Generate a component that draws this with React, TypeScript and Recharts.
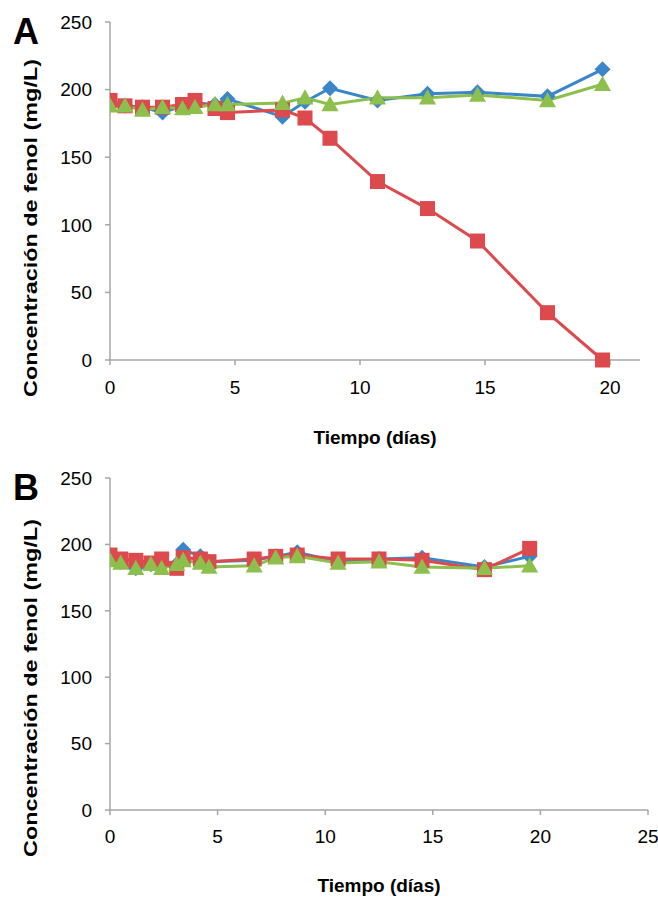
import React from 'react';
import { LineChart, Line, XAxis, YAxis, Label } from 'recharts';

const daysA = [0, 0.6, 1.3, 2.1, 2.9, 3.4, 4.2, 4.7, 6.9, 7.8, 8.8, 10.7, 12.7, 14.7, 17.5, 19.7];
const blueA = [190, 188, 187, 183, 188, 190, 189, 193, 180, 191, 201, 192, 197, 198, 195, 215];
const redA = [192, 188, 187, 187, 189, 192, 186, 183, 185, 179, 164, 132, 112, 88, 35, 0];
const greenA = [188, 188, 185, 187, 186, 187, 189, 189, 190, 194, 189, 194, 194, 196, 192, 204];

const daysB = [0, 0.5, 1.2, 1.9, 2.4, 3.1, 3.4, 4.2, 4.6, 6.7, 7.7, 8.7, 10.6, 12.5, 14.5, 17.4, 19.5];
const blueB = [190, 187, 182, 185, 186, 185, 196, 191, 187, 188, 191, 194, 187, 189, 190, 183, 191];
const redB = [192, 189, 188, 186, 189, 182, 190, 189, 187, 189, 191, 192, 189, 189, 188, 181, 197];
const greenB = [188, 186, 182, 185, 182, 185, 188, 186, 183, 184, 190, 191, 186, 187, 183, 182, 184];

const yTicks = [0, 50, 100, 150, 200, 250];
const xTicksA = [0, 5, 10, 15, 20];
const xTicksB = [0, 5, 10, 15, 20, 25];

const yTitle = 'Concentración de fenol (mg/L)';
const xTitle = 'Tiempo (días)';

const BLUE = '#3a86c8';
const RED = '#dc4a4d';
const GREEN = '#8cbf4c';
const AXIS = '#a6a6a6';
const FONT = '"Liberation Sans", Arial, Helvetica, sans-serif';

const build = (days: number[], b: number[], r: number[], g: number[]) =>
  days.map((d, i) => ({ day: d, blue: b[i], red: r[i], green: g[i] }));

const Diamond = (p: any) => {
  const { cx, cy } = p;
  if (cx == null || cy == null) return null;
  const s = 8;
  return <polygon points={`${cx},${cy - s} ${cx + s},${cy} ${cx},${cy + s} ${cx - s},${cy}`} fill={BLUE} />;
};
const Square = (p: any) => {
  const { cx, cy } = p;
  if (cx == null || cy == null) return null;
  const s = 7.5;
  return <rect x={cx - s} y={cy - s} width={2 * s} height={2 * s} fill={RED} />;
};
const Triangle = (p: any) => {
  const { cx, cy } = p;
  if (cx == null || cy == null) return null;
  const s = 8.5;
  return <polygon points={`${cx},${cy - s} ${cx + s},${cy + s * 0.8} ${cx - s},${cy + s * 0.8}`} fill={GREEN} />;
};

const tickStyle = { fontSize: 19, fill: '#000', fontFamily: FONT };

type PanelProps = {
  data: any[];
  height: number;
  top: number;
  right: number;
  xDomain: [number, number];
  xTicks: number[];
  xAxisH: number;
  xTickMargin: number;
  yLabelDy: number;
  xLabelDy: number;
};

const Panel = ({ data, height, top, right, xDomain, xTicks, xAxisH, xTickMargin, yLabelDy, xLabelDy }: PanelProps) => (
  <LineChart width={658} height={height} data={data} margin={{ top, right, left: 0, bottom: 0 }}>
    <XAxis
      type="number"
      dataKey="day"
      domain={xDomain}
      ticks={xTicks}
      allowDataOverflow
      height={xAxisH}
      stroke={AXIS}
      strokeWidth={1.5}
      tickSize={5}
      tickMargin={xTickMargin}
      tick={tickStyle}
      tickLine={{ stroke: AXIS }}
    >
      <Label
        content={(props: any) => {
          const vb = props.viewBox || {};
          return (
            <text
              x={vb.x + vb.width / 2}
              y={vb.y + xLabelDy}
              textAnchor="middle"
              fontFamily={FONT}
              fontWeight="bold"
              fontSize={19}
              fill="#000"
            >
              {xTitle}
            </text>
          );
        }}
      />
    </XAxis>
    <YAxis
      type="number"
      domain={[0, 250]}
      ticks={yTicks}
      width={110}
      stroke={AXIS}
      strokeWidth={1.5}
      tickSize={5}
      tickMargin={13}
      tick={tickStyle}
      tickLine={{ stroke: AXIS }}
    >
      <Label
        content={(props: any) => {
          const vb = props.viewBox || {};
          const x = vb.x + 30;
          const y = vb.y + vb.height / 2 + yLabelDy;
          return (
            <text
              x={x}
              y={y}
              transform={`rotate(-90, ${x}, ${y})`}
              textAnchor="middle"
              dominantBaseline="central"
              fontFamily={FONT}
              fontWeight="bold"
              fontSize={19}
              textLength={338}
              lengthAdjust="spacingAndGlyphs"
              fill="#000"
            >
              {yTitle}
            </text>
          );
        }}
      />
    </YAxis>
    <Line dataKey="blue" stroke={BLUE} strokeWidth={3} dot={<Diamond />} isAnimationActive={false} />
    <Line dataKey="red" stroke={RED} strokeWidth={3} dot={<Square />} isAnimationActive={false} />
    <Line dataKey="green" stroke={GREEN} strokeWidth={3} dot={<Triangle />} isAnimationActive={false} />
  </LineChart>
);

const letterStyle: React.CSSProperties = {
  position: 'absolute',
  left: 13,
  fontFamily: FONT,
  fontWeight: 'bold',
  fontSize: 36,
  lineHeight: '36px',
  color: '#000',
};

export default function App() {
  return (
    <div style={{ position: 'absolute', left: 0, top: 0, width: 658, height: 897, background: '#fff' }}>
      <div style={{ position: 'absolute', left: 0, top: 0 }}>
        <Panel
          data={build(daysA, blueA, redA, greenA)}
          height={450}
          top={22}
          right={18}
          xDomain={[0, 21.2]}
          xTicks={xTicksA}
          xAxisH={90}
          xTickMargin={16}
          yLabelDy={37}
          xLabelDy={84}
        />
      </div>
      <div style={{ position: 'absolute', left: 0, top: 450 }}>
        <Panel
          data={build(daysB, blueB, redB, greenB)}
          height={447}
          top={28}
          right={10}
          xDomain={[0, 25]}
          xTicks={xTicksB}
          xAxisH={87}
          xTickMargin={15}
          yLabelDy={44}
          xLabelDy={82}
        />
      </div>
      <div style={{ ...letterStyle, top: 14 }}>A</div>
      <div style={{ ...letterStyle, top: 470 }}>B</div>
    </div>
  );
}
